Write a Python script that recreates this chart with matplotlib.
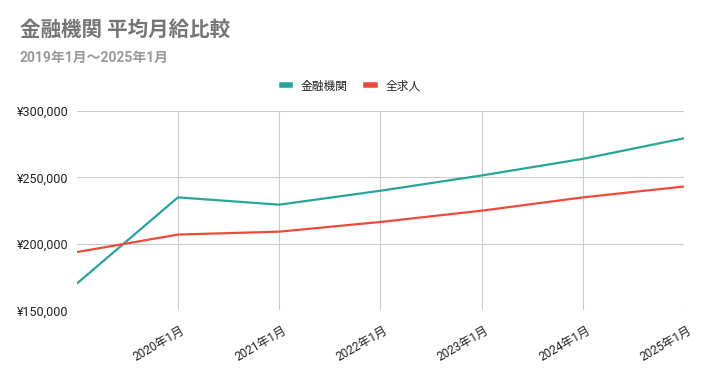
import matplotlib
matplotlib.use("Agg")
import matplotlib.pyplot as plt
from matplotlib.lines import Line2D
import matplotlib.transforms as mtransforms

plt.rcParams['font.family'] = ['Roboto', 'Noto Sans CJK JP', 'DejaVu Sans']

categories = ['2019年1月', '2020年1月', '2021年1月', '2022年1月', '2023年1月', '2024年1月', '2025年1月']
finance = [170000, 235000, 229500, 240000, 251500, 264000, 279500]
all_jobs = [193800, 207000, 209200, 216500, 225000, 235000, 243200]
series_names = ['金融機関', '全求人']
y_ticks = [150000, 200000, 250000, 300000]
title = '金融機関 平均月給比較'
subtitle = '2019年1月～2025年1月'

teal = '#26A69A'
red = '#EE4A3B'

fig = plt.figure(figsize=(7.04, 3.71), dpi=100)
ax = fig.add_axes([76.7/704, 1-310.3/371, (684.3-76.7)/704, (310.3-111)/371])

x = list(range(len(categories)))
ax.plot(x, finance, color=teal, lw=1.6, solid_capstyle='butt', zorder=3)
ax.plot(x, all_jobs, color=red, lw=1.6, solid_capstyle='butt', zorder=3)

ax.set_xlim(0, len(categories) - 1)
ax.set_ylim(y_ticks[0], y_ticks[-1])
ax.set_yticks(y_ticks)
ax.set_yticklabels(['¥{:,}'.format(v) for v in y_ticks], fontsize=9, color='#222222')
ax.set_xticks(x[1:])
ax.set_xticklabels(categories[1:], fontsize=8.6, color='#222222', rotation=30,
                   ha='right', va='center', rotation_mode='anchor')
ax.tick_params(axis='both', length=0)
ax.tick_params(axis='y', pad=6)
ax.tick_params(axis='x', pad=14)
offset = mtransforms.ScaledTranslation(6/100, 0, fig.dpi_scale_trans)
for lab in ax.get_xticklabels():
    lab.set_transform(lab.get_transform() + offset)

ax.grid(True, color='#CCCCCC', lw=0.8)
ax.set_axisbelow(True)
for s in ax.spines.values():
    s.set_visible(False)

fig.text(20/704, 1-30/371, title, fontsize=14.8, fontweight='bold', color='#757575',
         ha='left', va='center')
fig.text(20/704, 1-58/371, subtitle, fontsize=10, fontweight='bold', color='#999999',
         ha='left', va='center')

handles = [Line2D([], [], color=teal, lw=4), Line2D([], [], color=red, lw=4)]
fig.legend(handles, series_names, loc='center', bbox_to_anchor=(351/704, 1-86/371),
           ncol=2, frameon=False, fontsize=8.5, handlelength=0.75, handletextpad=0.9,
           columnspacing=1.5, labelcolor='#222222')

fig.savefig('out.png', dpi=100, facecolor='white')
